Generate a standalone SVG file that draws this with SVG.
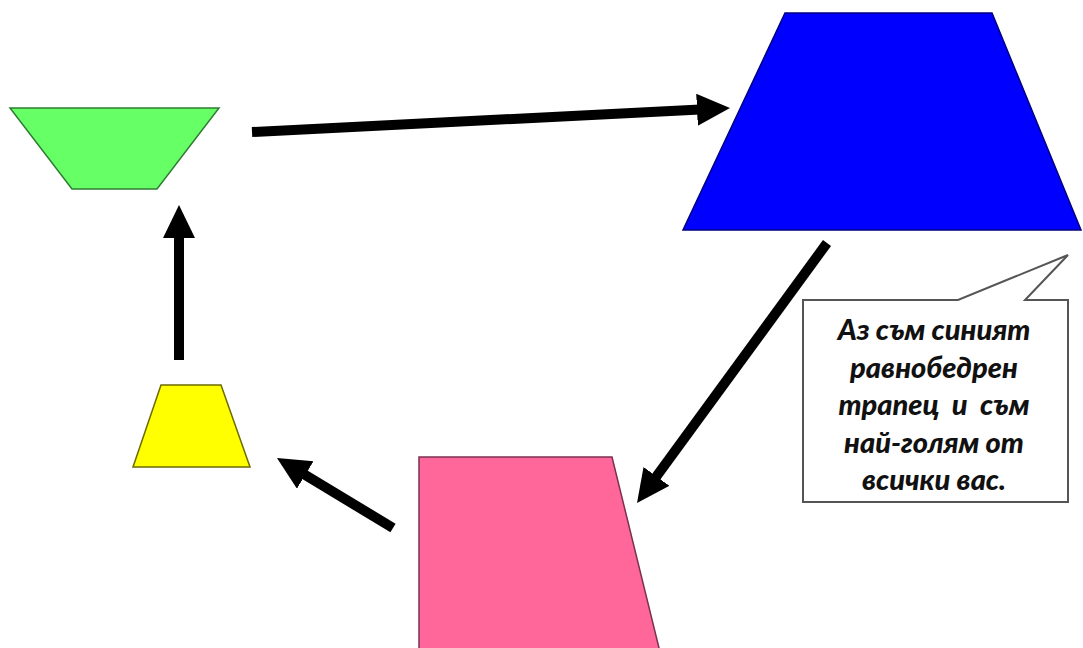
<svg xmlns="http://www.w3.org/2000/svg" width="1083" height="648" viewBox="0 0 1083 648">
  <style>
    .shape { stroke-width: 1.5; stroke-linejoin: miter; }
    .conn { stroke: #000; stroke-width: 10; fill: none; marker-end: url(#head); }
    .callout { fill: #fff; stroke: #555; stroke-width: 2; }
    .ctext { font-family: Lato, "Open Sans", sans-serif; font-weight: 900; font-style: italic; font-size: 29px; fill: #111; text-anchor: middle; }
  </style>
  <defs>
    <marker id="head" markerUnits="userSpaceOnUse" markerWidth="34" markerHeight="34" refX="13" refY="16" orient="auto" viewBox="0 0 34 34">
      <path d="M0,0 L33,16 L0,32 Z" fill="#000"/>
    </marker>
  </defs>
  <rect width="1083" height="648" fill="#fff"/>

  <g id="connectors">
    <line class="conn" x1="252" y1="132" x2="710" y2="109"/>
    <line class="conn" x1="827" y1="243" x2="648.8" y2="486.9"/>
    <line class="conn" x1="393" y1="528" x2="294.1" y2="468.3"/>
    <line class="conn" x1="179" y1="360" x2="179" y2="225"/>
  </g>

  <g id="green">
    <polygon class="shape" points="10,108 219,108 157,189 72,189" fill="#66ff66" stroke="#2e7d32"/>
  </g>
  <g id="blue">
    <polygon class="shape" points="785,13 992,13 1081,230 683,230" fill="#0000ff" stroke="#000080"/>
  </g>
  <g id="yellow">
    <polygon class="shape" points="161,385 221,385 250,467 133,467" fill="#ffff00" stroke="#6b6b00"/>
  </g>
  <g id="pink">
    <polygon class="shape" points="419,457 612,457 660,652 419,652" fill="#ff6699" stroke="#7a3050"/>
  </g>

  <g id="callout">
    <path class="callout" d="M803,300 L958,300 L1068,255 L1025,300 L1068,300 L1068,502 L803,502 Z"/>
    <text class="ctext" x="934" y="340">Аз съм синият</text>
    <text class="ctext" x="934" y="377.5">равнобедрен</text>
    <text class="ctext" x="934" y="415" xml:space="preserve">трапец  и  съм</text>
    <text class="ctext" x="934" y="452.5">най-голям от</text>
    <text class="ctext" x="934" y="490">всички вас.</text>
  </g>
</svg>
